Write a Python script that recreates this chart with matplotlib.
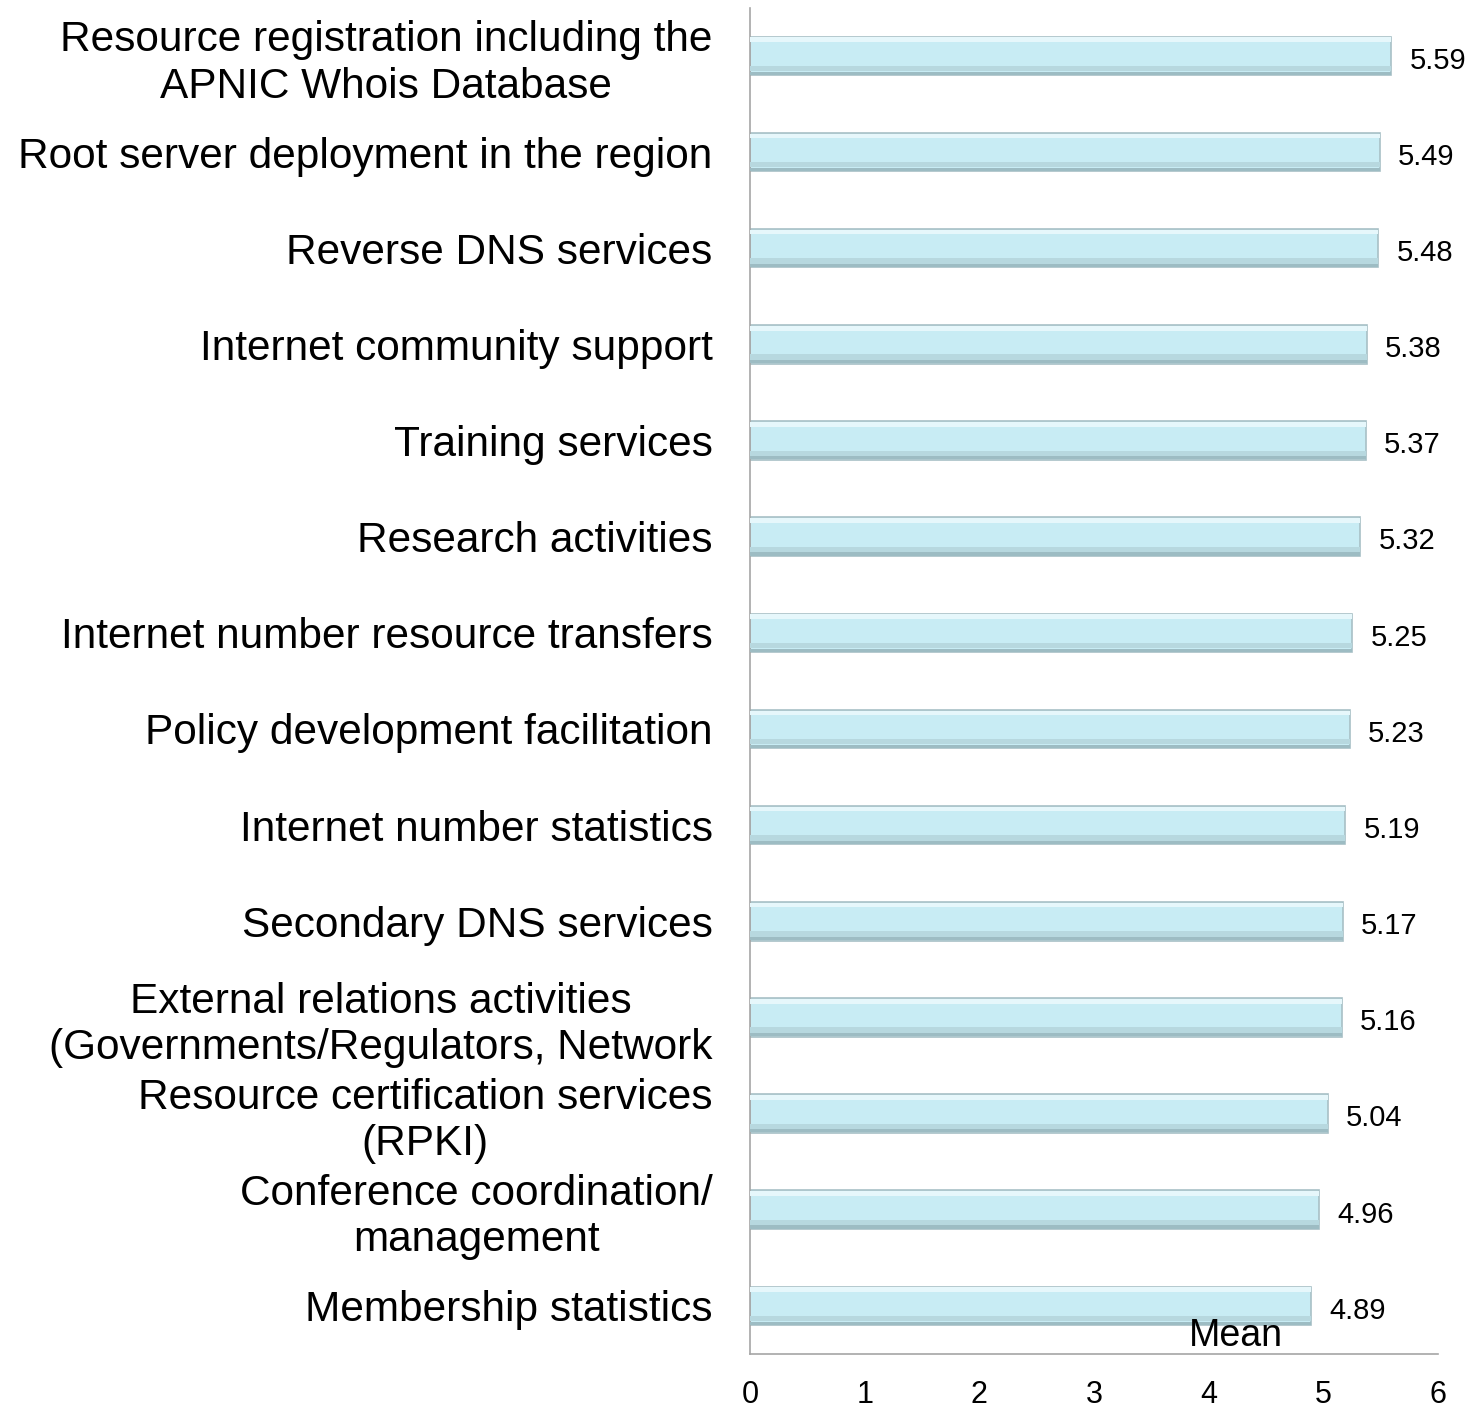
import matplotlib
matplotlib.use('Agg')
import matplotlib.pyplot as plt
import numpy as np

plt.rcParams['font.family'] = ['Liberation Sans', 'DejaVu Sans']

# services, top to bottom
services = [
    'Resource registration including the\nAPNIC Whois Database',
    'Root server deployment in the region',
    'Reverse DNS services',
    'Internet community support',
    'Training services',
    'Research activities',
    'Internet number resource transfers',
    'Policy development facilitation',
    'Internet number statistics',
    'Secondary DNS services',
    'External relations activities\n(Governments/Regulators, Network',
    'Resource certification services\n(RPKI)',
    'Conference coordination/\nmanagement',
    'Membership statistics',
]
means = [5.59, 5.49, 5.48, 5.38, 5.37, 5.32, 5.25, 5.23, 5.19, 5.17, 5.16, 5.04, 4.96, 4.89]
xticks = [0, 1, 2, 3, 4, 5, 6]

fig = plt.figure(figsize=(14.77, 14.08), dpi=100)
ax = fig.add_axes([0.5078, 0.0384, 0.4658, 0.956])

y = np.arange(len(services))
h = 0.40
# main bar body
ax.barh(y, means, height=h, color='#c8ecf4', edgecolor='#a8c0c6', linewidth=1.2, zorder=2)
# bevel: light strip on top, darker band at bottom
ax.barh(y - h * 0.42, means, height=h * 0.12, color='#e6f7fb', linewidth=0, zorder=3)
ax.barh(y + h * 0.33, means, height=h * 0.14, color='#b7d8df', linewidth=0, zorder=3)
ax.barh(y + h * 0.45, means, height=h * 0.08, color='#9dbcc3', linewidth=0, zorder=3)

for yi, v in zip(y, means):
    ax.text(v + 0.16, yi + 0.05, '%.2f' % v, va='center', ha='left', fontsize=21, color='black')

ax.set_xlim(0, 6)
ax.set_ylim(len(services) - 0.5, -0.5)
ax.set_xticks(xticks)
ax.set_xticklabels([str(t) for t in xticks], fontsize=22)
ax.set_yticks(y)
ax.set_yticklabels(services, fontsize=30.5, multialignment='center')
ax.tick_params(axis='y', length=0, pad=27)
ax.tick_params(axis='x', length=0, pad=19)

for s in ['top', 'right']:
    ax.spines[s].set_visible(False)
ax.spines['left'].set_color('#a6a6a6')
ax.spines['bottom'].set_color('#a6a6a6')
ax.spines['left'].set_linewidth(1.2)
ax.spines['bottom'].set_linewidth(1.2)

# axis title sits inside the plot, over the last bar
ax.text(0.706, 0.027, 'Mean', transform=ax.transAxes, ha='center', va='top',
        fontsize=27, zorder=6)

fig.savefig('out.png', dpi=100, facecolor='white')
